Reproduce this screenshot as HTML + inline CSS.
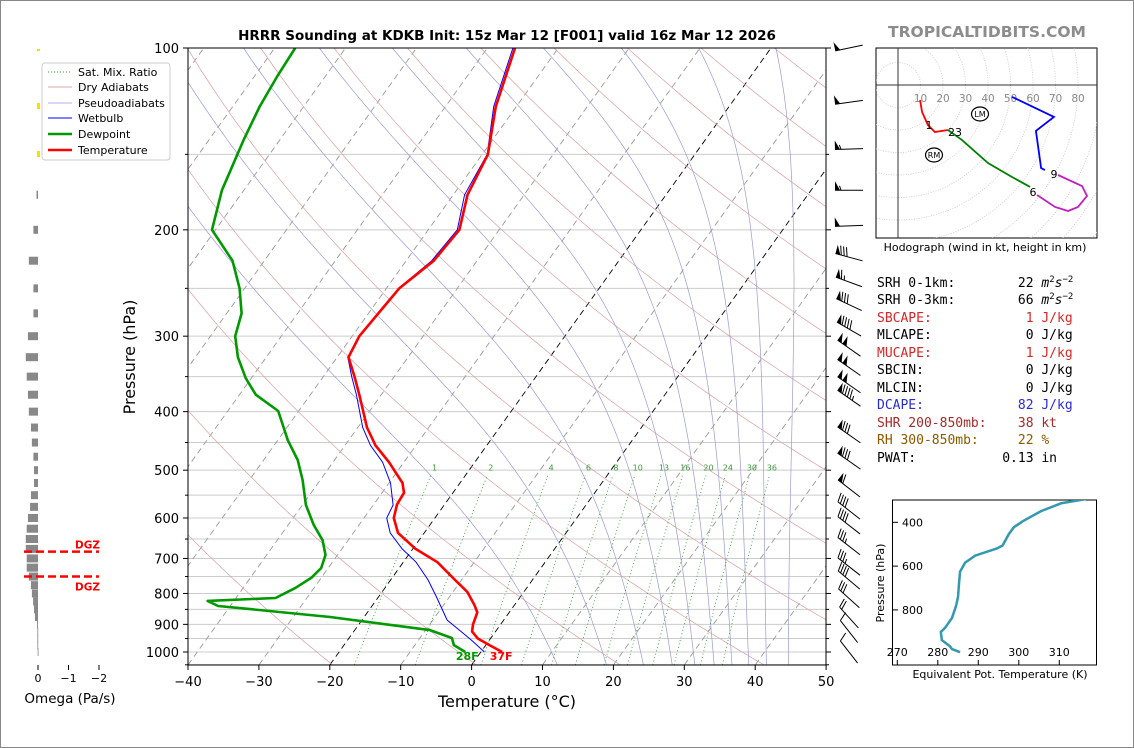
<!DOCTYPE html>
<html><head><meta charset="utf-8"><style>
html,body{margin:0;padding:0;background:#fff}
svg{display:block;font-family:"DejaVu Sans","Liberation Sans",sans-serif}
.mono{font-family:"DejaVu Sans Mono","Liberation Mono",monospace;font-size:13px}
</style></head><body>
<svg id="root" width="1134" height="748" viewBox="0 0 1134 748" xmlns="http://www.w3.org/2000/svg">
<rect x="0.5" y="0.5" width="1133" height="747" fill="#fff" stroke="#888"/>
<defs>
<clipPath id="mainclip"><rect x="188" y="48" width="638" height="617"/></clipPath>
<clipPath id="hodoclip"><rect x="876" y="48" width="221" height="190"/></clipPath>
<clipPath id="theclip"><rect x="893" y="500" width="204" height="165"/></clipPath>
</defs>
<text x="507" y="40" text-anchor="middle" font-size="13.5" font-weight="bold">HRRR Sounding at KDKB Init: 15z Mar 12 [F001] valid 16z Mar 12 2026</text>
<text x="987" y="37" text-anchor="middle" font-size="15.5" font-weight="bold" fill="#8c8c8c">TROPICALTIDBITS.COM</text>
<g id="bg" clip-path="url(#mainclip)"></g>
<g id="prof" clip-path="url(#mainclip)"></g>
<rect x="188" y="48" width="638" height="617" fill="none" stroke="#000"/>
<g id="axes"></g>
<text x="507" y="707" text-anchor="middle" font-size="16">Temperature (°C)</text>
<text x="135" y="357" text-anchor="middle" font-size="16" transform="rotate(-90 135 357)">Pressure (hPa)</text>
<g id="barbs"></g>
<g id="omega"></g>
<text x="70" y="703" text-anchor="middle" font-size="13.5">Omega (Pa/s)</text>
<g>
<rect x="42" y="63" width="128" height="97" rx="3" fill="#fff" fill-opacity="0.85" stroke="#ccc"/>
<line x1="48" y1="72" x2="72" y2="72" stroke="#2a9a2a" stroke-width="1" stroke-dasharray="1,2"/>
<text x="78" y="76" font-size="11">Sat. Mix. Ratio</text>
<line x1="48" y1="87" x2="72" y2="87" stroke="#d8a8a8"/>
<text x="78" y="91" font-size="11">Dry Adiabats</text>
<line x1="48" y1="103" x2="72" y2="103" stroke="#b0b0e8"/>
<text x="78" y="107" font-size="11">Pseudoadiabats</text>
<line x1="48" y1="118" x2="72" y2="118" stroke="#0000ff"/>
<text x="78" y="122" font-size="11">Wetbulb</text>
<line x1="48" y1="134" x2="72" y2="134" stroke="#009900" stroke-width="2.5"/>
<text x="78" y="138" font-size="11">Dewpoint</text>
<line x1="48" y1="150" x2="72" y2="150" stroke="#ff0000" stroke-width="2.5"/>
<text x="78" y="154" font-size="11">Temperature</text>
</g>
<g id="hodo"></g>
<text x="985" y="251" text-anchor="middle" font-size="11">Hodograph (wind in kt, height in km)</text>
<g xml:space="preserve">
<text class="mono" x="877" y="287" xml:space="preserve">SRH 0-1km:        22 <tspan font-style="italic">m</tspan><tspan font-size="9" dy="-5">2</tspan><tspan font-style="italic" dy="5">s</tspan><tspan font-size="9" dy="-5">−2</tspan></text>
<text class="mono" x="877" y="304" xml:space="preserve">SRH 0-3km:        66 <tspan font-style="italic">m</tspan><tspan font-size="9" dy="-5">2</tspan><tspan font-style="italic" dy="5">s</tspan><tspan font-size="9" dy="-5">−2</tspan></text>
<text class="mono" x="877" y="322" fill="#d62728" xml:space="preserve">SBCAPE:            1 J/kg</text>
<text class="mono" x="877" y="339" xml:space="preserve">MLCAPE:            0 J/kg</text>
<text class="mono" x="877" y="357" fill="#d62728" xml:space="preserve">MUCAPE:            1 J/kg</text>
<text class="mono" x="877" y="374" xml:space="preserve">SBCIN:             0 J/kg</text>
<text class="mono" x="877" y="392" xml:space="preserve">MLCIN:             0 J/kg</text>
<text class="mono" x="877" y="409" fill="#2b2bd6" xml:space="preserve">DCAPE:            82 J/kg</text>
<text class="mono" x="877" y="427" fill="#a52a2a" xml:space="preserve">SHR 200-850mb:    38 kt</text>
<text class="mono" x="877" y="444" fill="#8b5a00" xml:space="preserve">RH 300-850mb:     22 %</text>
<text class="mono" x="877" y="462" xml:space="preserve">PWAT:           0.13 in</text>
</g>
<g id="thetae"></g>
<text x="1000" y="678" text-anchor="middle" font-size="11">Equivalent Pot. Temperature (K)</text>
<text x="884" y="583" text-anchor="middle" font-size="11" transform="rotate(-90 884 583)">Pressure (hPa)</text>
</svg>
<script>
// ---------- data ----------
const tempP = [100,125,150,175,200,225,250,300,325,350,375,425,455,485,525,545,570,600,635,675,710,760,795,835,860,900,925,950,975,1000];
const tempT = [-56.1,-52.9,-49.2,-48.0,-45.6,-46.1,-48.2,-49.0,-48.4,-45.6,-43.1,-38.7,-35.7,-32.1,-28.1,-26.9,-26.7,-25.8,-23.7,-19.6,-15.2,-10.9,-8.0,-5.7,-4.5,-3.9,-3.3,-1.8,0.6,3.0];
const dewP = [100,111,125,142,172,200,225,250,275,300,325,352,375,399,446,481,519,571,616,653,691,726,754,783,814,823,839,849,875,920,948,974,1000];
const dewT = [-87.1,-86.8,-86.2,-85.1,-83.1,-80.5,-74.5,-70.7,-67.9,-66.5,-64.0,-60.8,-57.7,-52.9,-48.6,-45.2,-42.5,-39.5,-36.4,-33.6,-31.7,-31.0,-31.4,-32.6,-34.4,-43.7,-41.7,-36.9,-24.8,-9.4,-5.5,-4.5,-2.2];
const wbP = [100,125,150,175,200,225,250,300,325,350,375,425,455,485,525,571,600,635,675,710,760,811,885,927,959,1000];
const wbT = [-56.4,-53.2,-49.3,-48.4,-45.9,-46.4,-48.3,-49.1,-48.5,-46.0,-43.5,-39.3,-36.4,-33.0,-29.8,-27.2,-26.8,-24.8,-21.5,-18.2,-14.7,-11.8,-8.0,-4.7,-2.3,0.5];
const tempTicks = [-40,-30,-20,-10,0,10,20,30,40,50];
const presTicks = [100,200,300,400,500,600,700,800,900,1000];
const mixRatios = [1,2,4,6,8,10,13,16,20,24,30,36];
const moistTop = [-116,-105.2,-94.4,-83.7,-73.4,-63,-52.1,-41.1,-30.2,-19.3];
const barbP = [100,123,147,172,197,222,244,266,292,314,338,361,380,437,483,536,583,617,668,722,760,815,877,925,1000];
const barbSpd = [50,50,55,55,50,80,65,80,90,100,100,100,95,80,80,60,40,40,35,35,40,30,20,10,10];
const barbDir = [258,262,268,270,268,285,290,295,300,305,305,305,305,305,305,308,308,308,308,308,310,312,318,322,322];
const omegaP = [175,200,225,250,275,300,325,350,375,400,425,450,475,500,525,550,575,600,625,650,675,700,725,750,775,800,825,850,875,900,925,950,975,1000];
const omegaV = [0.05,0.15,0.3,0.15,0.15,0.33,0.4,0.37,0.33,0.3,0.23,0.2,0.15,0.13,0.13,0.23,0.26,0.33,0.37,0.4,0.4,0.37,0.37,0.3,0.23,0.2,0.16,0.13,0.1,0.03,0.02,0.02,0.02,0.01];
const dgzP = [682,750];
const hodoU = [9.8,10.7,13.3,16.4,22.2, 22.2,28.4,40.0,49.8,58.7, 61.8,69.8,75.6,80.0,84.0,81.8,71.1, 65.3,63.6,61.3,69.3,50.7];
const hodoV = [-6.7,-12.0,-17.8,-20.9,-20.0, -20.0,-24.4,-34.7,-40.4,-45.3, -48.9,-54.2,-56.0,-54.2,-49.3,-44.9,-40.0, -37.8,-36.9,-20.4,-14.2,-5.3];
const hodoSeg = [0,0,0,0,0, 1,1,1,1,1, 2,2,2,2,2,2,2, 3,3,3,3,3];
const thetaP = [294,313,349,395,423,455,506,520,552,584,625,676,740,782,837,883,901,938,966,979,993];
const thetaV = [316.5,310.5,305.5,301,298.75,297.5,296,294.5,289.25,286.75,285.5,285.25,285,284.5,283.5,281.75,280.75,281,283,283.5,285.5];
const thetaXTicks = [270,280,290,300,310];
const thetaYTicks = [400,600,800];

// ---------- helpers ----------
const NS = 'http://www.w3.org/2000/svg';
function mk(parent, tag, attrs){const e=document.createElementNS(NS,tag);for(const k in attrs)e.setAttribute(k,attrs[k]);parent.appendChild(e);return e;}
const Y = p => 48 + 604*Math.log10(p/100);
const X = (t,p) => 188 + (t+40)*7.09 + 0.715*(665 - Y(p));
function pts(ps, ts){return ps.map((p,i)=>X(ts[i],p).toFixed(1)+','+Y(p).toFixed(1)).join(' ');}

const bg=document.getElementById('bg'), prof=document.getElementById('prof'), axes=document.getElementById('axes');

for(let p=100;p<=1050;p+=50){
  const l=mk(bg,'line',{x1:188,x2:826,y1:Y(p),y2:Y(p),stroke:'#cccccc','stroke-width':1});
  
  
}
for(let t=-130;t<=50;t+=10){
  const black=(t===0||t===-20);
  const l=mk(bg,'line',{x1:X(t,1050),y1:Y(1050),x2:X(t,100),y2:Y(100),stroke:black?'#000':'#999','stroke-width':0.9,'stroke-dasharray':'6,4'});
  
  
}
for(let th=230;th<=500;th+=20){
  const ps=[],ts=[];
  for(let p=1050;p>=100;p-=10){ps.push(p);ts.push(th*Math.pow(p/1000,0.286)-273.15);}
  const l=mk(bg,'polyline',{points:pts(ps,ts),fill:'none',stroke:'#d9a0a0','stroke-width':0.7});
  
  
}
function es(tc){return 6.112*Math.exp(17.67*tc/(tc+243.5));}
function dTdp(T,p){const e=es(T-273.15);const rs=0.622*e/Math.max(p-e,1);return (287.04*T+2.501e6*rs)/(p*(1005.7+2.501e6*2.501e6*rs*0.622/(287.04*T*T)));}
moistTop.forEach(t100=>{
  const ps=[],ts=[];let T=t100+273.15;
  for(let p=100;p<=1050;p+=2.5){ps.push(p);ts.push(T-273.15);T+=dTdp(T,p)*2.5;if(T>340)break;}
  const l=mk(bg,'polyline',{points:pts(ps,ts),fill:'none',stroke:'#9a9ad8','stroke-width':0.7});
  
  
});
function tdw(w,p){const e=w*p/(622+w);const g=Math.log(e/6.112);return 243.5*g/(17.67-g);}
mixRatios.forEach(w=>{
  const ps=[],ts=[];
  for(let p=1050;p>=510;p-=10){ps.push(p);ts.push(tdw(w,p));}
  const l=mk(bg,'polyline',{points:pts(ps,ts),fill:'none',stroke:'#2a9a2a','stroke-width':0.8,'stroke-dasharray':'1,2.5'});
  
  
  const tx=mk(bg,'text',{x:X(tdw(w,493),493),y:Y(493)+4,'text-anchor':'middle','font-size':8,fill:'#3a9a3a'});
  tx.textContent=w;
  
  
});
const wb=mk(prof,'polyline',{points:pts(wbP,wbT),fill:'none',stroke:'#0000ff','stroke-width':1});


const dw=mk(prof,'polyline',{points:pts(dewP,dewT),fill:'none',stroke:'#009900','stroke-width':2.6,'stroke-linejoin':'round'});


const tl=mk(prof,'polyline',{points:pts(tempP,tempT),fill:'none',stroke:'#ff0000','stroke-width':2.6,'stroke-linejoin':'round'});


const dl=mk(prof,'text',{x:X(dewT[dewT.length-1],1000)+2,y:Y(1000)+8,'text-anchor':'middle','font-size':11,'font-weight':'bold',fill:'#009900'});
dl.textContent=Math.round(dewT[dewT.length-1]*9/5+32)+'F';


const tlb=mk(prof,'text',{x:X(tempT[tempT.length-1],1000)-1,y:Y(1000)+8,'text-anchor':'middle','font-size':11,'font-weight':'bold',fill:'#ff0000'});
tlb.textContent=Math.round(tempT[tempT.length-1]*9/5+32)+'F';



tempTicks.forEach(t=>{
  const x=188+(t+40)*7.09;
  const l=mk(axes,'line',{x1:x,x2:x,y1:665,y2:670,stroke:'#000'});
  
  
  const tx=mk(axes,'text',{x:x,y:686,'text-anchor':'middle','font-size':13});
  tx.textContent=t<0?'−'+(-t):t;
  
  
});
for(let p=100;p<=1050;p+=50){
  const major=presTicks.includes(p);
  const l=mk(axes,'line',{x1:188,x2:major?183:185,y1:Y(p),y2:Y(p),stroke:'#000'});
  
  
  const r=mk(axes,'line',{x1:826,x2:major?831:829,y1:Y(p),y2:Y(p),stroke:'#000'});
  
  
}
presTicks.forEach(p=>{
  const tx=mk(axes,'text',{x:179,y:Y(p)+5,'text-anchor':'end','font-size':13});
  tx.textContent=p;
  
  
});

const barbs=document.getElementById('barbs');
barbP.forEach((p,i)=>{
  const d=barbDir[i]*Math.PI/180, vx=Math.sin(d), vy=-Math.cos(d);
  const L=28, cx=849, cy=Y(p);
  const tx0=cx-vx*L/2, ty0=cy-vy*L/2, fx=cx+vx*L/2, fy=cy+vy*L/2;
  const g=mk(barbs,'g',{});
  
  
  mk(g,'line',{x1:tx0,y1:ty0,x2:fx,y2:fy,stroke:'#000','stroke-width':1});
  const px=-vy, py=vx;
  let s=Math.round(barbSpd[i]/5)*5, pos=0;
  while(s>=50){
    const ax=fx-vx*pos, ay=fy-vy*pos, bx=fx-vx*(pos+5), by=fy-vy*(pos+5);
    mk(g,'polygon',{points:`${ax},${ay} ${bx},${by} ${ax+px*9},${ay+py*9}`,fill:'#000'});
    pos+=6; s-=50;
  }
  while(s>=10){
    const ax=fx-vx*pos, ay=fy-vy*pos;
    mk(g,'line',{x1:ax,y1:ay,x2:ax+px*9+vx*3,y2:ay+py*9+vy*3,stroke:'#000','stroke-width':1});
    pos+=3; s-=10;
  }
  if(s>=5){
    if(pos===0)pos=3;
    const ax=fx-vx*pos, ay=fy-vy*pos;
    mk(g,'line',{x1:ax,y1:ay,x2:ax+px*4.5+vx*1.5,y2:ay+py*4.5+vy*1.5,stroke:'#000','stroke-width':1});
  }
});

const om=document.getElementById('omega');
omegaP.forEach((p,i)=>{
  const w=omegaV[i]*30.5;
  const r=mk(om,'rect',{x:38-w,y:Y(p)-4,width:Math.max(w,0.8),height:8,fill:'#888'});
  
  
});
[[50,2],[106,6],[154,6]].forEach(a=>{
  const r=mk(om,'rect',{x:37,y:a[0]-a[1]/2,width:3,height:a[1],fill:'#f5e000'});
  
  
});
dgzP.forEach((p,i)=>{
  const l=mk(om,'line',{x1:24,x2:99,y1:Y(p),y2:Y(p),stroke:'#ff0000','stroke-width':2.5,'stroke-dasharray':'8,4'});
  
  
  const t=mk(om,'text',{x:100,y:i===0?Y(p)-3:Y(p)+14,'text-anchor':'end','font-size':10.5,'font-weight':'bold',fill:'#ff0000'});
  t.textContent='DGZ';
  
  
});
[0,-1,-2].forEach(v=>{
  const x=38-v*30.5;
  const l=mk(om,'line',{x1:x,x2:x,y1:665,y2:670,stroke:'#000'});
  
  
  const t=mk(om,'text',{x:x,y:682,'text-anchor':'middle','font-size':11});
  t.textContent=v===0?'0':'−'+(-v);
  
  
});

const hodo=document.getElementById('hodo');
const hf=mk(hodo,'rect',{x:876,y:48,width:221,height:190,fill:'#fff',stroke:'#000'});


const hg=mk(hodo,'g',{'clip-path':'url(#hodoclip)'});


const HX=u=>898+u*2.25, HY=v=>85-v*2.25;
for(let k=10;k<=120;k+=10){
  const c=mk(hg,'circle',{cx:HX(0),cy:HY(0),r:k*2.25,fill:'none',stroke:'#c8c8c8','stroke-width':0.8,'stroke-dasharray':'1,1.5'});
  
  
}
const ha1=mk(hg,'line',{x1:898,x2:898,y1:48,y2:238,stroke:'#333'});


const ha2=mk(hg,'line',{x1:876,x2:1097,y1:85,y2:85,stroke:'#333'});


for(let k=10;k<=80;k+=10){
  const t=mk(hg,'text',{x:HX(k),y:102,'text-anchor':'middle','font-size':10.5,fill:'#888'});
  t.textContent=k;
  
  
}
const segCol=['#ff0000','#008000','#c020c0','#0000ff'];
for(let s=0;s<4;s++){
  const idx=hodoSeg.map((v,i)=>v===s?i:-1).filter(i=>i>=0);
  const l=mk(hg,'polyline',{points:idx.map(i=>HX(hodoU[i])+','+HY(hodoV[i])).join(' '),fill:'none',stroke:segCol[s],'stroke-width':1.8});
  
  
}
[['1',929,129],['23',955,136],['6',1033,196],['9',1054,178]].forEach(a=>{
  const t=mk(hg,'text',{x:a[1],y:a[2],'text-anchor':'middle','font-size':11});
  t.textContent=a[0];
  
  
});
[['LM',980,114],['RM',934,155]].forEach(a=>{
  const e=mk(hg,'ellipse',{cx:a[1],cy:a[2],rx:8.5,ry:7,fill:'#fff',stroke:'#000','stroke-width':1.2});
  
  
  const t=mk(hg,'text',{x:a[1],y:a[2]+3,'text-anchor':'middle','font-size':8});
  t.textContent=a[0];
  
  
});

const th=document.getElementById('thetae');
const TX=v=>897.3+(v-270)*4.05, TY=p=>522.3+(p-400)*0.219;
const tf=mk(th,'rect',{x:892.5,y:500,width:204,height:165,fill:'#fff',stroke:'#000'});


thetaXTicks.forEach(v=>{
  const l=mk(th,'line',{x1:TX(v),x2:TX(v),y1:665,y2:660,stroke:'#000'});
  
  
  const t=mk(th,'text',{x:TX(v),y:656,'text-anchor':'middle','font-size':11});
  t.textContent=v;
  
  
});
thetaYTicks.forEach(p=>{
  const l=mk(th,'line',{x1:893,x2:898,y1:TY(p),y2:TY(p),stroke:'#000'});
  
  
  const t=mk(th,'text',{x:902,y:TY(p)+4,'font-size':11});
  t.textContent=p;
  
  
});
const tc=mk(th,'polyline',{points:thetaP.map((p,i)=>TX(thetaV[i])+','+TY(p)).join(' '),fill:'none',stroke:'#3399b0','stroke-width':2.5,'clip-path':'url(#theclip)'});


</script>
</body></html>
